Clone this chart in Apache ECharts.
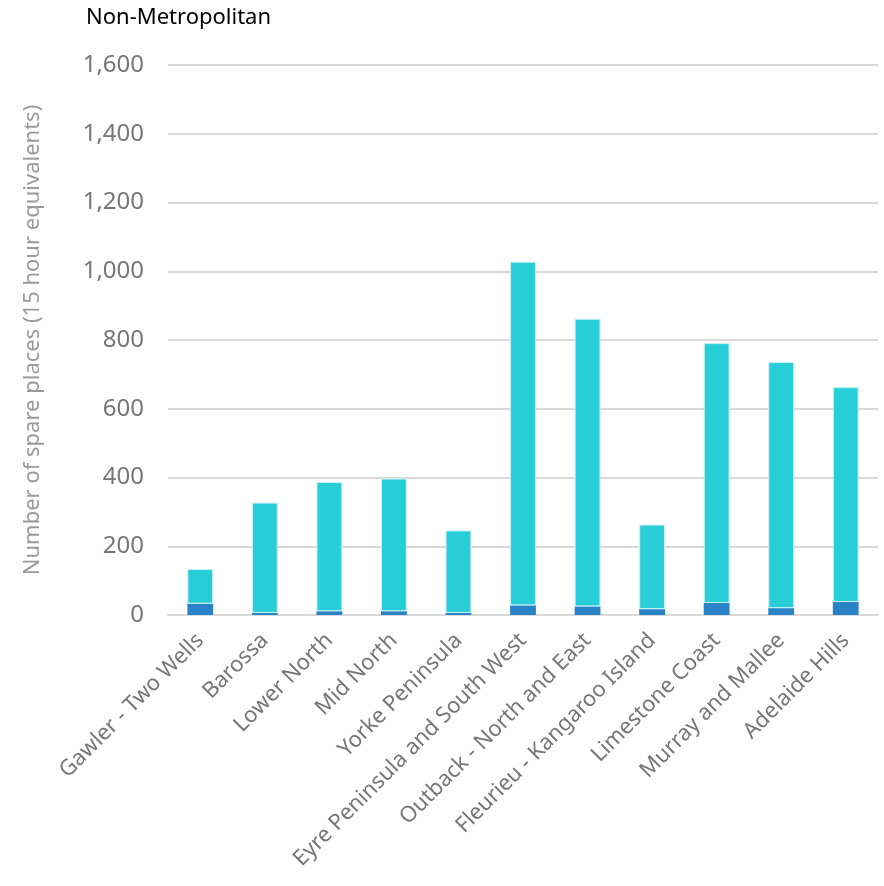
<!DOCTYPE html>
<html>
<head>
<meta charset="utf-8">
<script src="https://cdn.jsdelivr.net/npm/echarts@6/dist/echarts.min.js"></script>
<style>html,body{margin:0;padding:0;background:#fff}#c{width:884px;height:886px}</style>
</head>
<body>
<div id="c"></div>
<script>
const categories = ["Gawler - Two Wells","Barossa","Lower North","Mid North","Yorke Peninsula","Eyre Peninsula and South West","Outback - North and East","Fleurieu - Kangaroo Island","Limestone Coast","Murray and Mallee","Adelaide Hills"];
const darkValues = [33, 6, 11, 11, 6, 28, 25, 17, 35, 20, 38];
const lightValues = [101, 321, 376, 386, 240, 1000, 837, 246, 756, 716, 625];
const yTicks = [0, 200, 400, 600, 800, 1000, 1200, 1400, 1600];

const font = "Noto Sans";
const chart = echarts.init(document.getElementById('c'), null, {renderer: 'canvas'});
chart.setOption({
  animation: false,
  backgroundColor: '#ffffff',
  title: {
    text: 'Non-Metropolitan', left: 81, top: 2,
    textStyle: {fontFamily: font, fontSize: 22, fontWeight: 'normal', color: '#000'}
  },
  grid: {left: 168, right: 6, top: 65, bottom: 271, containLabel: false},
  xAxis: {
    type: 'category', data: categories,
    axisLine: {show: true, lineStyle: {color: '#d9d9d9', width: 2}},
    axisTick: {show: false},
    axisLabel: {rotate: 45, interval: 0, margin: 22, fontFamily: font, fontSize: 22, color: '#767676'}
  },
  yAxis: {
    type: 'value', min: yTicks[0], max: yTicks[yTicks.length - 1], interval: 200,
    name: 'Number of spare places (15 hour equivalents)',
    nameLocation: 'middle', nameGap: 124, nameRotate: 90,
    nameTextStyle: {fontFamily: font, fontSize: 22, color: '#9a9a9a'},
    axisLine: {show: false}, axisTick: {show: false},
    axisLabel: {margin: 24, fontFamily: font, fontSize: 24, color: '#767676',
      formatter: v => v.toLocaleString('en-US')},
    splitLine: {lineStyle: {color: '#d9d9d9', width: 2}}
  },
  series: [
    {name: 'Dark', type: 'bar', stack: 's', data: darkValues, barWidth: '40%',
     itemStyle: {color: '#2983c6'}},
    {name: 'Light', type: 'bar', stack: 's', data: lightValues, barWidth: '40%',
     itemStyle: {color: '#28ced7', borderColor: '#c9f1f4', borderWidth: 1}}
  ]
});
</script>
</body>
</html>
